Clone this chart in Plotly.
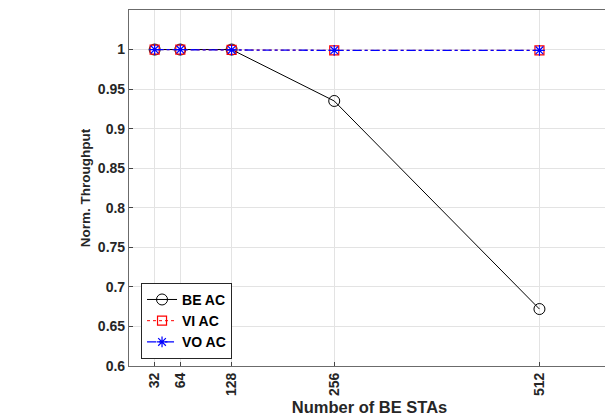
import plotly.graph_objects as go

sta_counts = [32, 64, 128, 256, 512]
tick_labels = ["32", "64", "128", "256", "512"]
be_ac = [1.0, 1.0, 1.0, 0.935, 0.672]
vi_ac = [1.0, 1.0, 0.9995, 0.999, 0.999]
vo_ac = [1.0, 1.0, 0.9995, 0.999, 0.999]

fig = go.Figure()
fig.add_trace(go.Scatter(
    x=sta_counts, y=be_ac, name="BE AC", mode="lines+markers",
    line=dict(color="black", width=1),
    marker=dict(symbol="circle-open", size=11, color="black", line=dict(width=1))))
fig.add_trace(go.Scatter(
    x=sta_counts, y=vi_ac, name="VI AC", mode="lines+markers",
    line=dict(color="red", width=1, dash="dot"),
    marker=dict(symbol="square-open", size=9, color="red", line=dict(width=1.2))))
fig.add_trace(go.Scatter(
    x=sta_counts, y=vo_ac, name="VO AC", mode="lines+markers",
    line=dict(color="blue", width=1.3, dash="dashdot"),
    marker=dict(symbol="asterisk-open", size=9, color="blue", line=dict(width=1.2, color="blue"))))

axis_font = dict(family="Liberation Sans, Arial", size=14, color="#262626")
fig.update_layout(
    width=605, height=412,
    margin=dict(l=121, r=3, t=2, b=54, autoexpand=False),
    paper_bgcolor="white", plot_bgcolor="white",
    font=dict(family="Liberation Sans, Arial", color="#262626"),
    showlegend=True,
    legend=dict(x=0.025, y=0.02, xanchor="left", yanchor="bottom",
                bordercolor="#262626", borderwidth=1, bgcolor="white",
                font=dict(family="Liberation Sans, Arial", size=14, color="black", weight="bold"),
                tracegroupgap=0),
)
fig.update_xaxes(
    range=[0, 600], tickmode="array", tickvals=sta_counts, ticktext=tick_labels,
    tickangle=-90, tickfont=dict(**axis_font, weight="bold"), automargin=False,
    showgrid=True, gridcolor="#e3e3e3", gridwidth=1,
    showline=True, linecolor="#6b6b6b", linewidth=1.2, mirror=True,
    ticks="inside", ticklen=4, tickcolor="#444", zeroline=False,
    title=dict(text="Number of BE STAs", font=dict(family="Liberation Sans, Arial", size=16.5, color="#262626", weight="bold"), standoff=6),
)
fig.update_yaxes(
    range=[0.6, 1.05], tickmode="array",
    tickvals=[0.6, 0.65, 0.7, 0.75, 0.8, 0.85, 0.9, 0.95, 1.0],
    ticktext=["0.6", "0.65", "0.7", "0.75", "0.8", "0.85", "0.9", "0.95", "1"],
    tickfont=dict(**axis_font, weight="bold"), automargin=False,
    showgrid=True, gridcolor="#e3e3e3", gridwidth=1,
    showline=True, linecolor="#6b6b6b", linewidth=1.2, mirror=True,
    ticks="inside", ticklen=4, tickcolor="#444", zeroline=False,
    title=dict(text="Norm. Throughput", font=dict(family="Liberation Sans, Arial", size=13.5, color="#262626", weight="bold"), standoff=4),
)

fig.write_html("out.html")
